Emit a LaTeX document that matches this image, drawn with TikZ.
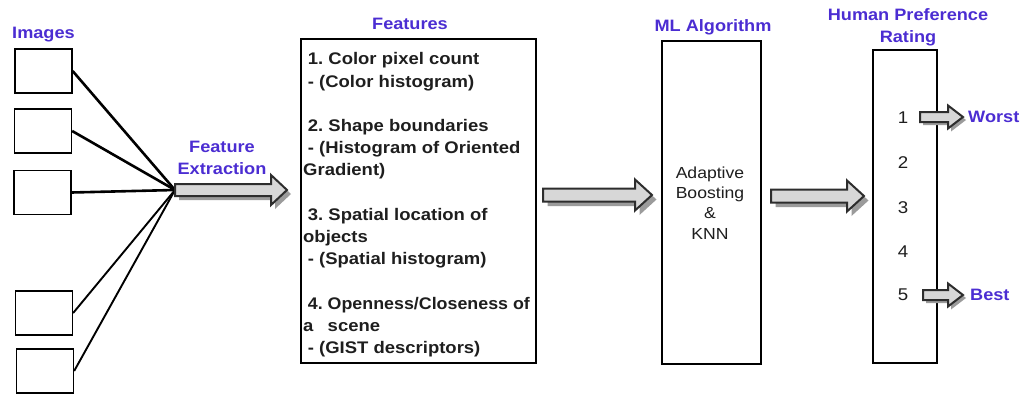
\documentclass[tikz,border=0pt]{standalone}
\usepackage{fontspec}
\usepackage{graphicx}
\setmainfont{Liberation Sans}[FakeStretch=1.1]
\usetikzlibrary{calc}
\frenchspacing
\definecolor{ttl}{RGB}{75,45,210}
\definecolor{arrfill}{RGB}{215,215,215}
\definecolor{arrline}{RGB}{45,45,45}
\definecolor{arrshadow}{RGB}{155,155,155}
\definecolor{txt}{RGB}{30,30,30}
\tikzset{
  arrbody/.style={fill=arrfill,draw=arrline,line width=2pt,line join=miter},
  arrshad/.style={fill=arrshadow},
  imgbox/.style={draw,line width=1.3pt,minimum width=57pt,minimum height=44pt,inner sep=0pt},
  bigbox/.style={draw,line width=1.3pt,inner sep=0pt},
  title/.style={text=ttl,font=\fontsize{16.5}{22}\selectfont\bfseries,inner sep=0pt,align=center},
  imgline/.style={line width=2.6pt},
  imglinethin/.style={line width=1.9pt},
  numtxt/.style={text=txt,font=\fontsize{17}{20}\selectfont,inner sep=0pt},
}
% #1 from, #2 tip, #3 shaft half, #4 head half, #5 head length, #6 shadow offset
\newcommand\blockarr[6]{%
  \foreach \o/\s in {#6/arrshad,0/arrbody}{%
    \path[\s] let \p1=(#1), \p2=(#2) in
      ({\x1+\o pt},{\y1+#3pt-\o pt}) -- ({\x2-#5pt+\o pt},{\y1+#3pt-\o pt})
      -- ({\x2-#5pt+\o pt},{\y1+#4pt-\o pt}) -- ({\x2+\o pt},{\y1-\o pt})
      -- ({\x2-#5pt+\o pt},{\y1-#4pt-\o pt}) -- ({\x2-#5pt+\o pt},{\y1-#3pt-\o pt})
      -- ({\x1+\o pt},{\y1-#3pt-\o pt}) -- cycle;
  }%
}
\begin{document}
\begin{tikzpicture}[x=1pt,y=-1pt]
\useasboundingbox (0,0) rectangle (1021,394);

% images
\node[title] (imgt) at (43.5,35) {Images};
\node[imgbox] (img1) at (43.5,71) {};
\node[imgbox] (img2) at (43,131) {};
\node[imgbox] (img3) at (42.5,192.5) {};
\node[imgbox] (img4) at (44,313) {};
\node[imgbox] (img5) at (45,371) {};
\coordinate (hub) at (175,190);
\draw[imgline] (img1.east) -- (hub);
\draw[imgline] (img2.east) -- (hub);
\draw[imgline] (img3.east) -- (hub);
\draw[imglinethin] (img4.east) -- (hub);
\draw[imglinethin] (img5.east) -- (hub);

% feature extraction arrow
\coordinate (fetip) at (287,190);
\blockarr{hub}{fetip}{6}{15}{16}{4}
\node[title] (fet) at (222,157.5) {Feature\\Extraction};

% features
\node[title] (featt) at (410,24) {Features};
\node[bigbox,minimum width=235pt,minimum height=324pt] (feat) at (418.5,201) {};
\node[anchor=north west,inner sep=0pt,align=left,text=txt,
      font=\fontsize{16.8}{22.2}\selectfont\bfseries] (feattxt) at (303,52.5)
{\hspace*{0.28em}1. Color pixel count\\
\hspace*{0.28em}- (Color histogram)\\
\mbox{}\\
\hspace*{0.28em}2. Shape boundaries\\
\hspace*{0.28em}- (Histogram of Oriented\\
Gradient)\\
\mbox{}\\
\hspace*{0.28em}3. Spatial location of\\
objects\\
\hspace*{0.28em}- (Spatial histogram)\\
\mbox{}\\
\hspace*{0.28em}\scalebox{0.965}[1]{4. Openness/Closeness of}\\
a\hspace*{0.85em}scene\\
\hspace*{0.28em}- (GIST descriptors)};

% arrow features -> ML
\coordinate (a2s) at (543,195);
\coordinate (a2e) at (652,195);
\blockarr{a2s}{a2e}{6.5}{15.5}{17}{4.5}

% ML algorithm
\node[title] (mlt) at (713,27) {ML Algorithm};
\node[bigbox,minimum width=99pt,minimum height=323pt] (ml) at (711.5,202.5) {};
\node[numtxt,align=center,font=\fontsize{16}{20.3}\selectfont] (mltxt) at (710,203)
  {Adaptive\\Boosting\\\&\\KNN};

% arrow ML -> rating
\coordinate (a3s) at (771,196);
\coordinate (a3e) at (864,196);
\blockarr{a3s}{a3e}{6.5}{15.5}{17}{4.5}

% rating
\node[title] (ratt) at (908,27) {Human Preference\\Rating};
\node[bigbox,minimum width=64pt,minimum height=313pt] (rat) at (905,206.5) {};
\node[numtxt] (r1) at (903,118) {1};
\node[numtxt] (r2) at (903,163) {2};
\node[numtxt] (r3) at (903,208) {3};
\node[numtxt] (r4) at (903,252) {4};
\node[numtxt] (r5) at (903,295) {5};

\coordinate (w1) at (920,117);
\coordinate (w2) at (963,117);
\blockarr{w1}{w2}{5}{11.5}{15}{3}
\node[title,anchor=west] (worst) at (968,117) {Worst};
\coordinate (b1) at (923,295);
\coordinate (b2) at (963,295);
\blockarr{b1}{b2}{5}{11.5}{15}{3}
\node[title,anchor=west] (best) at (970,295) {Best};
\end{tikzpicture}
\end{document}
